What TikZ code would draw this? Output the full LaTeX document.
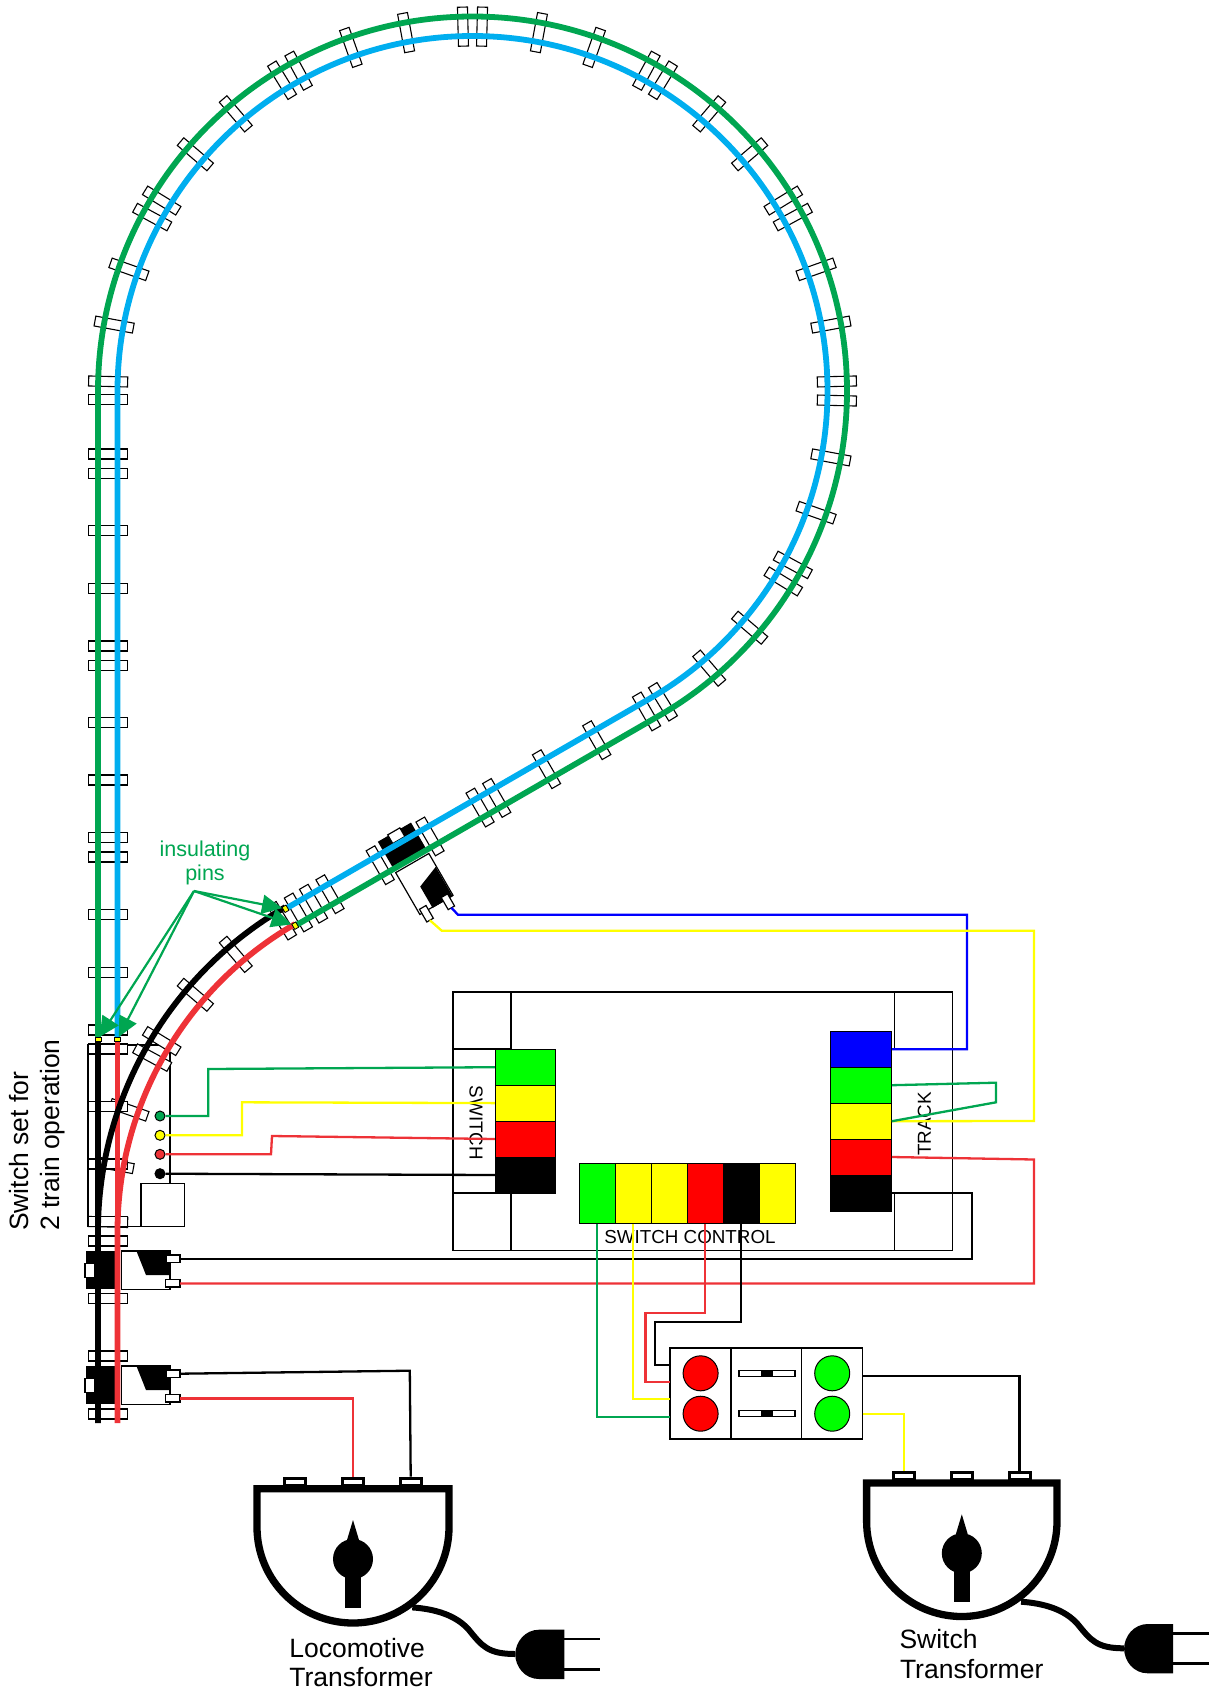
\documentclass[tikz,border=0pt]{standalone}
\usepackage{fontspec}
\setmainfont{Liberation Sans}
\usetikzlibrary{arrows.meta}
\definecolor{railgreen}{HTML}{00A651}
\definecolor{railblue}{HTML}{00AEEF}
\definecolor{railred}{HTML}{EE3237}
\definecolor{lampgreen}{HTML}{00FF00}
\definecolor{lampred}{HTML}{FF0000}
\definecolor{lampyellow}{HTML}{FFFF00}
\definecolor{lampblue}{HTML}{0000FF}
\begin{document}
\begin{tikzpicture}[x=1pt,y=1pt,yscale=-1,
	tie/.style={draw=black,fill=white,line width=1.1pt},
	rail/.style={line width=5.8pt},
	wire/.style={line width=2.3pt},
	box/.style={draw=black,fill=white,line width=1.2pt},
	cell/.style={draw=black,line width=1pt,inner sep=0pt},
	lamp/.style={circle,draw=black,line width=1pt,minimum size=35pt,inner sep=0pt},
	dot/.style={circle,draw=black,line width=1pt,minimum size=10pt,inner sep=0pt},
	pin/.style={draw=black,fill=lampyellow,line width=.8pt,minimum width=6pt,minimum height=4.5pt,inner sep=0pt},
	post/.style={draw=black,fill=white,line width=3pt,minimum width=21pt,minimum height=7pt,inner sep=0pt},
	pinarrow/.style={draw=railgreen,line width=2.2pt,-{Triangle[length=20pt,width=19pt]}},
	biglabel/.style={inner sep=0pt,font=\fontsize{26.5}{28}\selectfont},
	panellabel/.style={inner sep=0pt,font=\fontsize{18.8}{20}\selectfont}]
	\useasboundingbox (0,0) rectangle (1209,1693);

	\draw [box] (88,1045) rectangle (170,1226.7);
	\foreach \sec in {0,...,7}
		\foreach \off in {1.5,10.5,19.5,28.5} {
			\pgfmathsetmacro{\ang}{-180+30*\sec+\off}
			\draw [tie,shift={(472.5,391)},rotate=\ang] (345,-5) rectangle (384,5);
		}
	\foreach \sec in {0,1}
		\foreach \off in {1.5,10.5,19.5,28.5} {
			\pgfmathsetmacro{\ang}{-180+30*\sec+\off}
			\draw [tie,shift={(472.5,1231.5)},rotate=\ang] (345,-5) rectangle (384,5);
		}
	\foreach \y in {399.5,454,473.3,530.7,588.3,646,665.3,722.7,780,837.7,857,914.7,972.3,1030,1049,1106.7,1164,1221.7,1241,1298.7,1356,1414}
		\draw [tie] (88.3,\y-5) rectangle (127.3,\y+5);
	\foreach \d in {9.5,67,125,182.5,201.7,259.5,317,375,394,411.5}
		\draw [tie,shift={(654.75,706.7)},rotate=60] (-19.5,\d-5) rectangle (19.5,\d+5);
	\draw [box] (141,1183.5) rectangle (184.5,1226.7);

	\foreach \bx/\by/\ang/\n in {107.5/1270/0/a,107.5/1385/0/b,405.3/850.7/60/c} {
		\begin{scope}[shift={(\bx,\by)},rotate=\ang]
			\fill (-21.5,-19) rectangle (7.5,19.3);
			\draw [box] (-22.5,-6.7) rectangle (-12.5,7.3);
			\draw [box] (14.2,-19) rectangle (62.5,19.3);
			\fill (29.2,-18.3) -- (63.2,-18.3) -- (63.2,5) -- (38.5,5) -- cycle;
			\draw [box] (58.5,-15) rectangle (72.5,-7.7);
			\draw [box] (57.8,9.5) rectangle (72.5,17);
			\coordinate (term\n1) at (72.5,-11.3);
			\coordinate (term\n2) at (72.5,13.5);
		\end{scope}
	}

	\draw [railred,rail] (117.5,1423) -- (117.5,1231.5) arc [start angle=180,end angle=240,radius=355pt];
	\draw [railred,rail] (117.5,1231.5) -- (117.5,1040);
	\draw [black,rail] (98,1423) -- (98,1231.5) arc [start angle=180,end angle=240,radius=374.5pt];
	\draw [black,rail] (98,1231.5) -- (98,1040);
	\draw [railblue,rail] (117.5,1037) -- (117.5,391) arc [start angle=180,end angle=420,radius=355pt] -- (285.5,908.8);
	\draw [railgreen,rail] (98,1037) -- (98,391) arc [start angle=180,end angle=420,radius=374.5pt] -- (295.25,925.7);

	\draw [box] (453,992) rectangle (952.5,1250.6);
	\draw [box] (453,1049) rectangle (495.4,1193);
	\draw [box] (453,992) rectangle (511,1049);
	\draw [box] (453,1193) rectangle (511,1250.6);
	\draw [box] (894.6,992) rectangle (952.5,1049);
	\draw [box] (894.6,1193) rectangle (952.5,1250.6);
	\node [panellabel,rotate=-90] (switchlabel) at (476,1123) {SWITCH};
	\node [panellabel,rotate=90] (tracklabel) at (924.5,1124) {TRACK};
	\node [panellabel] (controllabel) at (690,1237) {SWITCH CONTROL};

	\foreach \i/\c/\y in {1/lampgreen/1067.2,2/lampyellow/1103.1,3/lampred/1139,4/black/1175}
		\node [cell,fill=\c,minimum width=60pt,minimum height=36pt] (sw\i) at (525.4,\y) {};
	\foreach \i/\c/\y in {1/lampblue/1049.2,2/lampgreen/1085.2,3/lampyellow/1121.2,4/lampred/1157,5/black/1193}
		\node [cell,fill=\c,minimum width=60.8pt,minimum height=36pt] (trk\i) at (861,\y) {};
	\foreach \i/\c/\x in {1/lampgreen/597.3,2/lampyellow/633.2,3/lampyellow/669.3,4/lampred/705.2,5/black/741.2,6/lampyellow/777.3}
		\node [cell,fill=\c,minimum width=36pt,minimum height=60.4pt] (ctl\i) at (\x,1193.2) {};

	\foreach \i/\c/\y in {1/railgreen/1116,2/lampyellow/1135.3,3/railred/1154.3,4/black/1173.7}
		\node [dot,fill=\c] (pt\i) at (160,\y) {};

	\draw [box] (670,1348) rectangle (731,1439);
	\draw [box] (731,1348) rectangle (801.6,1439);
	\draw [box] (801.6,1348) rectangle (862.7,1439);
	\node [lamp,fill=lampred] (lampa) at (700.6,1373.3) {};
	\node [lamp,fill=lampred] (lampb) at (700.6,1413.7) {};
	\node [lamp,fill=lampgreen] (lampc) at (832.2,1373.3) {};
	\node [lamp,fill=lampgreen] (lampd) at (832.2,1413.7) {};
	\foreach \y in {1373.5,1413.5} {
		\draw [tie] (739,\y-2.8) rectangle (795,\y+2.8);
		\fill (760.8,\y-2.8) rectangle (773.2,\y+2.8);
	}
	\coordinate (ina) at (670,1365);
	\coordinate (inb) at (670,1381.7);
	\coordinate (inc) at (670,1399);
	\coordinate (ind) at (670,1417);
	\coordinate (outa) at (862.7,1376);
	\coordinate (outb) at (862.7,1414);

	\foreach \cx/\cy/\r/\n in {353/1527/96/loco,961.8/1521.3/95.2/swt} {
		\begin{scope}[shift={(\cx,\cy)}]
			\node [post] (\n1) at (-57.7,-45.3) {};
			\node [post] (\n2) at (0,-45.3) {};
			\node [post] (\n3) at (57.7,-45.3) {};
			\draw [line width=7.3pt,fill=white] (-\r,-38.3) -- (-\r,0) arc [start angle=180,end angle=0,radius=\r pt] -- (\r,-38.3) -- cycle;
			\fill (0,32) circle [radius=20pt];
			\fill (0,-7) -- (6,13) -- (-6,13) -- cycle;
			\fill (-8,40) rectangle (8,80.7);
			\draw [line width=6pt] (59.3,80.4) .. controls (82,82) and (103,88) .. (116,103) .. controls (129,119) and (135,127) .. (162.3,127);
			\fill (211.3,102.7) -- (186,102.7) .. controls (172,102.7) and (162.3,115) .. (162.3,127.3) .. controls (162.3,140) and (172,152) .. (186,152) -- (211.3,152) -- cycle;
			\draw [line width=2.7pt] (211.3,112) -- (247.2,112);
			\draw [line width=2.7pt] (211.3,142.4) -- (247.2,142.4);
		\end{scope}
	}

	\draw [railgreen,wire] (pt1) -- (208.3,1116) -- (208.3,1069) -- (sw1.west);
	\draw [lampyellow,wire] (pt2) -- (242,1135.3) -- (242,1102.3) -- (sw2.west);
	\draw [railred,wire] (pt3) -- (271,1154.3) -- (272,1136) -- (sw3.west);
	\draw [black,wire] (pt4) -- (sw4.west);
	\draw [lampblue,wire] (termc1) -- (458,914.7) -- (967,914.7) |- (trk1.east);
	\draw [lampyellow,wire] (termc2) -- (441.7,930.7) -- (1034,930.7) -- (1034,1121) -- (trk3.east);
	\draw [railgreen,wire] (trk2.east) -- (996,1082.7) -- (996,1102.3) -- (trk3.east);
	\draw [railred,wire] (trk4.east) -- (1034,1159.5) |- (terma2);
	\draw [black,wire] (trk5.east) -- (972,1193) |- (terma1);
	\draw [railgreen,wire] (ctl1.south) |- (ind);
	\draw [lampyellow,wire] (ctl2.south) |- (inc);
	\draw [railred,wire] (ctl4.south) -- (705.2,1313.3) -- (645.4,1313.3) |- (inb);
	\draw [black,wire] (ctl5.south) -- (741.2,1322) -- (655.3,1322) |- (ina);
	\draw [black,wire] (outa) -| (swt3.north);
	\draw [lampyellow,wire] (outb) -| (swt1.north);
	\draw [black,wire] (termb1) -- (409.8,1370.7) -- (loco3.north);
	\draw [railred,wire] (termb2) -| (loco2.north);

	\node [pin] (pina) at (98,1039.5) {};
	\node [pin] (pinb) at (117.5,1039.5) {};
	\node [pin,rotate=-60] (pinc) at (285.5,908.8) {};
	\node [pin,rotate=-60] (pind) at (295.25,925.7) {};
	\coordinate (hub) at (194,891);
	\foreach \p in {pina,pinb,pinc,pind}
		\draw [pinarrow] (hub) -- (\p);

	\node [text=railgreen,inner sep=0pt,anchor=base,font=\fontsize{21.5}{23}\selectfont] (pinlabela) at (205,856.7) {insulating};
	\node [text=railgreen,inner sep=0pt,anchor=base,font=\fontsize{21.5}{23}\selectfont] (pinlabelb) at (205,880) {pins};
	\node [biglabel,rotate=90,anchor=base west] (setlabela) at (28.5,1231) {Switch set for};
	\node [biglabel,rotate=90,anchor=base west] (setlabelb) at (59.3,1231) {2 train operation};
	\node [biglabel,anchor=base west] (localabela) at (289.2,1657.3) {Locomotive};
	\node [biglabel,anchor=base west] (localabelb) at (289.2,1686.7) {Transformer};
	\node [biglabel,anchor=base west] (swtlabela) at (899.3,1648.3) {Switch};
	\node [biglabel,anchor=base west] (swtlabelb) at (899.8,1678) {Transformer};
\end{tikzpicture}
\end{document}
